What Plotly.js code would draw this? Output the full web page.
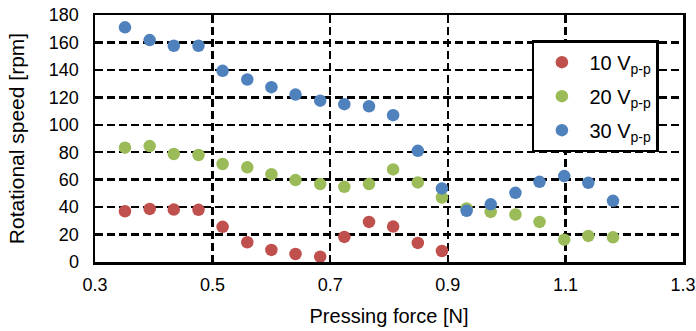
<!DOCTYPE html>
<html>
<head>
<meta charset="utf-8">
<script src="https://cdn.plot.ly/plotly-3.0.1.min.js"></script>
<style>html,body{margin:0;padding:0;background:#fff;}#chart{width:696px;height:331px;}</style>
</head>
<body>
<div id="chart"></div>
<script>
const force = [0.351, 0.393, 0.434, 0.476, 0.517, 0.559, 0.600, 0.641, 0.683, 0.724, 0.766, 0.807, 0.849, 0.890, 0.932, 0.973, 1.015, 1.056, 1.098, 1.139, 1.181];
const speed10 = [37, 38.7, 38.2, 38, 25.6, 14.4, 8.8, 5.8, 3.9, 18.3, 29.2, 25.8, 13.9, 8];
const speed20 = [83.3, 84.5, 78.7, 78, 71.4, 69, 64, 59.7, 56.8, 54.8, 56.8, 67.5, 58, 47, 39, 36.5, 34.6, 29.2, 16.3, 19, 18];
const speed30 = [171, 161.7, 157.6, 157.6, 139.3, 133, 127.4, 122, 117.6, 115, 113.5, 107, 81, 53.6, 37.3, 42, 50.4, 58.4, 62.6, 57.7, 44.6];
const seriesNames = ["10 V<sub>p-p</sub>", "20 V<sub>p-p</sub>", "30 V<sub>p-p</sub>"];
const xTicks = [0.3, 0.5, 0.7, 0.9, 1.1, 1.3];
const yTicks = [0, 20, 40, 60, 80, 100, 120, 140, 160, 180];

const colors = ["#C0504D", "#9BBB59", "#4F81BD"];
const ys = [speed10, speed20, speed30];
const traces = ys.map((y, i) => ({
  x: force.slice(0, y.length),
  y: y,
  type: "scatter",
  mode: "markers",
  name: seriesNames[i],
  legendgroup: "g" + i,
  marker: {color: colors[i], size: 12.5}
}));

const font = {family: "Liberation Sans, Arial, sans-serif", color: "#000"};
const f = s => Object.assign({size: s}, font);
const layout = {
  width: 696, height: 331,
  margin: {l: 95, r: 13, t: 15, b: 69},
  paper_bgcolor: "#fff", plot_bgcolor: "#fff",
  showlegend: true,
  font: f(18),
  xaxis: {
    range: [0.3, 1.3], tickvals: xTicks, ticktext: xTicks.map(v => v.toFixed(1)),
    showgrid: true, gridcolor: "#000", gridwidth: 2.5, griddash: "8px,4px",
    zeroline: false, showline: true, linecolor: "#000", linewidth: 2.5, mirror: true,
    ticks: "", tickfont: f(18), ticklabelstandoff: 5,
    title: {text: "Pressing force [N]", font: f(20), standoff: 15}
  },
  yaxis: {
    range: [0, 180], tickvals: yTicks,
    showgrid: true, gridcolor: "#000", gridwidth: 2.5, griddash: "8px,4px",
    zeroline: false, showline: true, linecolor: "#000", linewidth: 2.5, mirror: true,
    ticks: "", tickfont: f(18), ticklabelstandoff: 10,
    title: {text: "Rotational speed [rpm]", font: f(21), standoff: 19}
  },
  legend: {
    x: 0.743, y: 0.898, xanchor: "left", yanchor: "top",
    bgcolor: "#fff", bordercolor: "#000", borderwidth: 2.5,
    font: f(20), itemwidth: 45,
    tracegroupgap: 5
  }
};
Plotly.newPlot("chart", traces, layout, {displayModeBar: false, staticPlot: true});
</script>
</body>
</html>
